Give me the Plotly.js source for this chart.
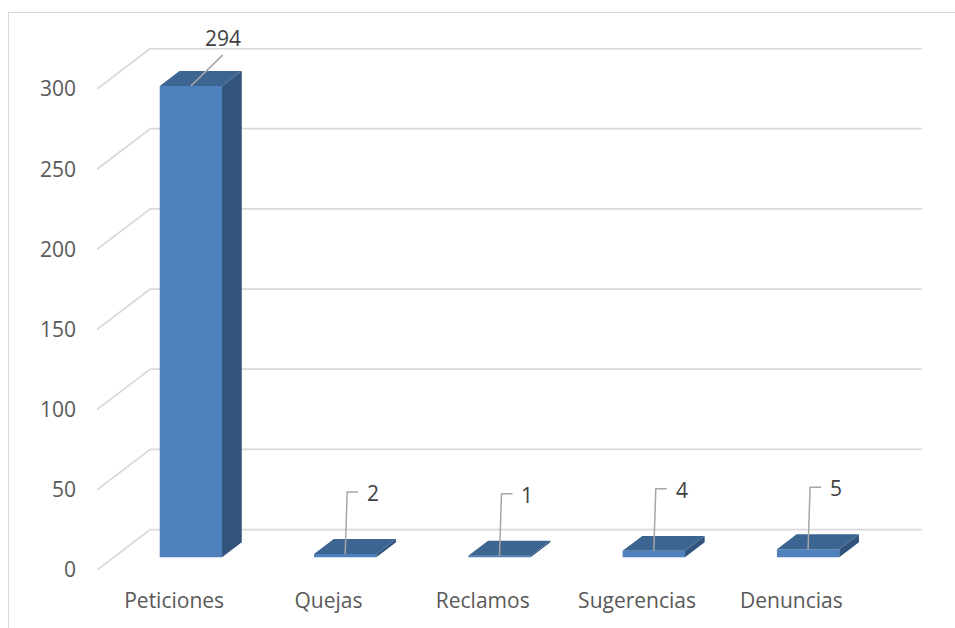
<!DOCTYPE html>
<html>
<head>
<meta charset="utf-8">
<script src="https://cdn.plot.ly/plotly-3.0.1.min.js"></script>
<style>
html,body{margin:0;padding:0;background:#fff;overflow:hidden;}
#frame{position:absolute;left:8px;top:12px;width:2000px;height:2000px;border-left:1px solid #d9d9d9;border-top:1px solid #d9d9d9;}
#chart{position:absolute;left:0;top:0;width:955px;height:628px;}
</style>
</head>
<body>
<div id="frame"></div>
<div id="chart"></div>
<script>
// ---- data ----
const categories = ['Peticiones', 'Quejas', 'Reclamos', 'Sugerencias', 'Denuncias'];
const values = [294, 2, 1, 4, 5];
const yTicks = [0, 50, 100, 150, 200, 250, 300];

// ---- 3D geometry (in axis units) ----
const DX = 0.3454;   // full depth, x units
const DY = 25.26;    // full depth, y units
const F1 = 0.314;    // depth fraction of bar front face
const FB = 0.37;     // bar depth fraction
const BW = 0.404;    // bar width
const pxX = 154.3;   // px per x unit
const pxY = 1.6033;  // px per y unit
const FS = 21;

const idx = categories.map((c, i) => i);
const base = F1 * DY;
const fx = idx.map(i => i + F1 * DX);
const bdx = FB * DX, bdy = FB * DY;

// top and side faces
const topX = [], topY = [], sideX = [], sideY = [];
values.forEach((v, i) => {
  const xl = fx[i] - BW / 2, xr = fx[i] + BW / 2, yt = base + v;
  topX.push(xl, xr, xr + bdx, xl + bdx, xl, null);
  topY.push(yt, yt, yt + bdy, yt + bdy, yt, null);
  sideX.push(xr, xr, xr + bdx, xr + bdx, xr, null);
  sideY.push(base, yt, yt + bdy, base + bdy, base, null);
});

// leader lines + labels
const leadX = [], leadY = [];
const annotations = [];
values.forEach((v, i) => {
  const x0 = fx[i], y0 = base + v;
  if (v > 100) {
    leadX.push(x0, x0 + 32 / pxX, null);
    leadY.push(y0, y0 + 31 / pxY, null);
    annotations.push({x: x0, y: y0, xref: 'x', yref: 'y', text: String(v), showarrow: false,
      xshift: 32, yshift: 48, font: {family: 'Open Sans', size: FS, color: '#404040'}});
  } else {
    leadX.push(x0, x0 + 2 / pxX, x0 + 13 / pxX, null);
    leadY.push(y0, y0 + 62 / pxY, y0 + 62 / pxY, null);
    annotations.push({x: x0, y: y0, xref: 'x', yref: 'y', text: String(v), showarrow: false,
      xshift: 28, yshift: 61, font: {family: 'Open Sans', size: FS, color: '#404040'}});
  }
});

// gridlines (back wall + diagonal)
const shapes = [];
yTicks.forEach(t => {
  shapes.push({type: 'line', xref: 'x', yref: 'y', layer: 'below',
    x0: -0.5, y0: t, x1: -0.5 + DX, y1: t + DY, line: {color: '#d9d9d9', width: 1.75}});
  shapes.push({type: 'line', xref: 'x', yref: 'y', layer: 'below',
    x0: -0.5 + DX, y0: t + DY, x1: categories.length - 0.5 + DX, y1: t + DY, line: {color: '#d9d9d9', width: 1.75}});
});

const traces = [
  {type: 'bar', x: fx, y: values, base: base, width: BW,
   marker: {color: '#4f81bd', line: {width: 0}}, hoverinfo: 'skip', showlegend: false},
  {type: 'scatter', x: sideX, y: sideY, mode: 'lines', fill: 'toself', fillcolor: '#32537c',
   line: {width: 0, color: '#32537c'}, hoverinfo: 'skip', showlegend: false},
  {type: 'scatter', x: topX, y: topY, mode: 'lines', fill: 'toself', fillcolor: '#3c6592',
   line: {width: 0, color: '#3c6592'}, hoverinfo: 'skip', showlegend: false},
  {type: 'scatter', x: leadX, y: leadY, mode: 'lines',
   line: {width: 1.5, color: '#a6a6a6'}, hoverinfo: 'skip', showlegend: false}
];

const W = 955, H = 628, L = 97, R = 32, T = 48, B = 58;
const xr0 = -0.5, xr1 = -0.5 + (W - L - R) / pxX;
const yr1 = (H - T - B) / pxY;

const layout = {
  width: W, height: H,
  margin: {l: L, r: R, t: T, b: B, pad: 0},
  paper_bgcolor: 'rgba(0,0,0,0)', plot_bgcolor: 'rgba(0,0,0,0)',
  showlegend: false,
  font: {family: 'Open Sans', size: FS, color: '#595959'},
  xaxis: {range: [xr0, xr1], tickmode: 'array', tickvals: idx, ticktext: categories,
    showgrid: false, zeroline: false, showline: false, ticks: '', ticklabelstandoff: 16,
    tickfont: {family: 'Open Sans', size: FS, color: '#595959'}, fixedrange: true},
  yaxis: {range: [0, yr1], tickmode: 'array', tickvals: yTicks,
    showgrid: false, zeroline: false, showline: false, ticks: '', ticklabelstandoff: 20,
    tickfont: {family: 'Open Sans', size: FS, color: '#595959'}, fixedrange: true},
  shapes: shapes,
  annotations: annotations
};

Plotly.newPlot('chart', traces, layout, {displayModeBar: false, staticPlot: true});
</script>
</body>
</html>
